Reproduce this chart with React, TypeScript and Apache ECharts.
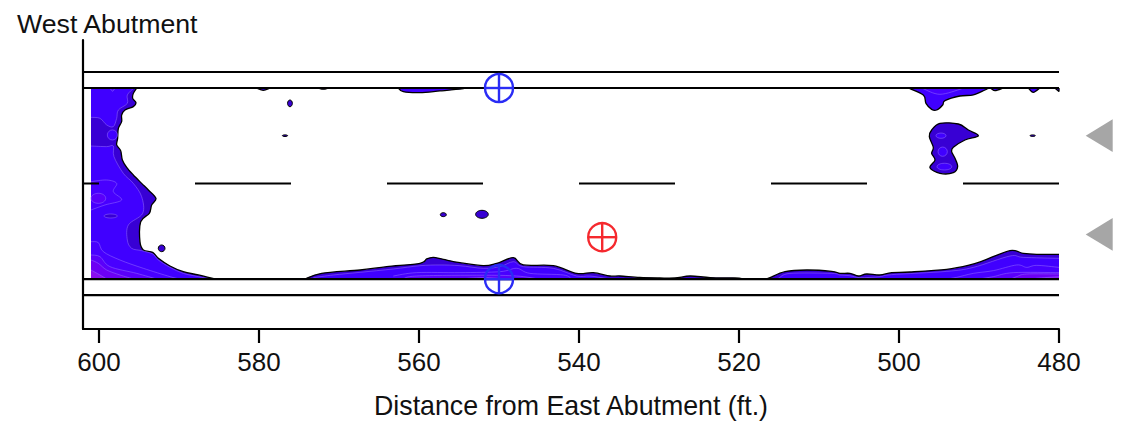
import React, { useEffect, useRef } from "react";
import * as echarts from "echarts";

type P = [number, number];
type Contour = { level: number; edge: P[]; close: P[] | null };

const xTicks = [600, 580, 560, 540, 520, 500, 480];
const deckLineYs = [4.12, 6.12, 30, 32];
const centerY = 18.06;
const centerDashes: P[] = [[602, 600], [588, 576], [564, 552], [540, 528], [516, 504], [492, 480]];

const levelColors = ["#3800d4", "#4000ff", "#4800ff", "#5a00fa", "#6c00f4", "#8a10f0"];

// West side mass, outer boundary then interior levels
const leftOuter: P[] = [[595.29, 30], [595.71, 29.33], [595.79, 28.71], [595.38, 28.17], [595.71, 27.67], [596.75, 27.25], [597.17, 26.63], [597.17, 25.79], [597.58, 24.96], [597.67, 23.71], [597.79, 22.88], [597.29, 22.17], [597.08, 21], [596.54, 20.08], [595.71, 19.13], [594.67, 18.08], [593.83, 17.25], [592.88, 16.21], [593.42, 15.38], [593.71, 14.33], [594.79, 13.29], [594.88, 10.79], [594.46, 9.75], [593.29, 9.46], [592.58, 8.71], [591.13, 7.75], [589.46, 7.04], [587.58, 6.63], [585.5, 6.12]];
const leftTop: P[] = [[595.63, 30], [596.46, 29.13], [596.46, 28.08], [597.58, 27.25], [597.79, 26.21], [598.21, 25.17], [599.04, 25.38], [599.88, 26.21], [601, 26.33]];
const leftLower: P[] = [[601, 22.75], [599.04, 22.67], [598.21, 22.75], [598.13, 21.42], [596.96, 19.33], [595.71, 18.08], [594.67, 16.42], [594.54, 14.33], [596.33, 12.88], [596.46, 11], [595.92, 9.96], [594.67, 9.67], [593.29, 9.25], [592.58, 8.5], [591.13, 7.58], [589.46, 6.83], [587.58, 6.42], [586.13, 6.12]];
const leftPatch: P[] = [[601, 18.29], [599.04, 18.5], [597.79, 18.08], [598.21, 17.04], [597.17, 16], [599.25, 15.38], [601, 14.75]];
const leftBase2: P[] = [[601, 10.79], [600.08, 10.67], [599.46, 9.54], [597.38, 8.5], [594.46, 7.46], [591.13, 6.42], [589.88, 6.12]];
const leftBase3: P[] = [[601, 9.13], [599.88, 8.92], [598.63, 7.67], [595.29, 6.83], [592.79, 6.12]];
const leftBase4: P[] = [[601, 8.5], [600.08, 8.08], [599.04, 7.25], [597.38, 6.63], [595.71, 6.12]];
const leftBase5: P[] = [[601, 7.25], [599.88, 6.63], [599.04, 6.12]];
const leftTopBump: P[] = [[598.63, 30], [598.3, 29.6], [598, 30]];

// Bottom strip along the east face, middle portion
const midOuter: P[] = [[574.25, 6.12], [572.17, 6.83], [567.37, 7.25], [564.04, 7.67], [559.88, 8.08], [559.04, 8.63], [558.21, 8.83], [556.96, 8.58], [554.88, 8.17], [551.96, 7.79], [550.29, 8.08], [548.21, 8.79], [546.96, 7.88], [543.21, 7.79], [540.29, 6.83], [538.21, 6.92], [536.13, 6.5], [534.88, 6.5], [532.4, 6.31], [529.9, 6.25], [528, 6.25], [526.1, 6.5], [523.6, 6.3], [520.5, 6.25], [519.3, 6.12]];
const mid1: P[] = [[573.21, 6.29], [570.71, 6.63], [567.37, 6.96], [563.21, 7.38], [559.88, 7.79], [557.38, 7.88], [554.88, 7.79], [551.96, 7.46], [549.88, 7.67], [548.21, 8.29], [546.96, 7.67], [543.21, 7.46], [540.29, 6.5], [538.63, 6.5], [536.54, 6.2], [535.5, 6.12]];
const mid2: P[] = [[563.21, 6.5], [560.29, 6.92], [554.88, 6.92], [549.88, 7.04], [547.79, 7.46], [546.13, 6.83], [541.96, 6.63], [540.92, 6.12]];
const mid3: P[] = [[562, 6.12], [560.29, 6.5], [552.38, 6.6], [547.79, 6.5], [545, 6.12]];
const mid4: P[] = [[555, 6.12], [551.96, 6.3], [549, 6.12]];

// Bottom strip, east end
const eastOuter: P[] = [[516.6, 6.12], [516.13, 6.29], [514.25, 7.04], [511.54, 7.25], [508.42, 7.08], [507.38, 6.83], [506.13, 6.83], [505.08, 6.5], [504.04, 6.75], [502.38, 6.63], [500.92, 6.92], [498.63, 7], [494.04, 7.33], [491.13, 7.88], [489.46, 8.42], [486.13, 9.67], [484.46, 9.33], [482.79, 9.21], [480, 9.21]];
const east1: P[] = [[515.6, 6.12], [515.08, 6.21], [513.63, 6.83], [508.42, 6.83], [507.38, 6.63], [506.13, 6.54], [504.88, 6.29], [502.38, 6.42], [500.92, 6.67], [494.04, 7.08], [490.71, 7.58], [486.13, 9], [484.46, 8.83], [480, 8.71]];
const east2: P[] = [[494, 6.12], [492.79, 6.33], [490.71, 6.83], [488.21, 7.17], [485.29, 7.88], [484.04, 7.58], [482.79, 7.83], [480, 7.58]];
const east3: P[] = [[490, 6.12], [488.21, 6.42], [485.71, 6.92], [480, 6.92]];
const east4: P[] = [[486, 6.12], [485.29, 6.42], [484.04, 6.75], [480, 6.75]];
const east5: P[] = [[483, 6.12], [482.79, 6.21], [480, 6.42]];

// Top strip pieces and the isolated blob
const topEast: P[] = [[498.83, 30], [496.96, 29.13], [496.63, 28.08], [495.92, 27.33], [495.29, 27.25], [494.54, 27.88], [494.25, 28.42], [492.38, 29], [490.71, 29.13], [489.25, 29.75], [488.63, 30], [488, 29.67], [486.96, 30]];
const topEastInner: P[] = [[496.96, 29.9], [494.88, 29.21], [492.17, 29.9]];
const topBump2: P[] = [[483.83, 30], [483.21, 29.46], [482.38, 30]];
const topBump3: P[] = [[480.5, 30], [480.08, 29.63], [480, 29.63], [480, 30]];
const topBumpA: P[] = [[580.29, 30], [579.46, 29.71], [578.63, 30]];
const topBumpB: P[] = [[572.58, 30], [571.96, 29.85], [571.33, 30]];
const topMid: P[] = [[562.58, 30], [561.96, 29.54], [559.88, 29.42], [557.38, 29.63], [554.67, 29.88], [554.4, 30]];
const eastBlob: P[] = [[494.88, 25.58], [492.58, 25.5], [491.33, 24.75], [490.08, 24.04], [491.75, 23.5], [493.21, 22.58], [493.42, 22.04], [493, 21.21], [492.67, 20.17], [493.21, 19.42], [494.88, 19.33], [496.13, 20.04], [495.5, 21], [495.92, 21.83], [495.71, 22.58], [496.21, 23.92], [495.92, 24.75]];

const contours: Contour[] = [
  { level: 0, edge: leftOuter, close: [[601, 6.12], [601, 30]] },
  { level: 1, edge: leftTop, close: [[601, 30]] },
  { level: 1, edge: leftLower, close: [[601, 6.12]] },
  { level: 2, edge: leftPatch, close: [] },
  { level: 2, edge: leftTopBump, close: [] },
  { level: 2, edge: leftBase2, close: [[601, 6.12]] },
  { level: 3, edge: leftBase3, close: [[601, 6.12]] },
  { level: 4, edge: leftBase4, close: [[601, 6.12]] },
  { level: 5, edge: leftBase5, close: [[601, 6.12]] },
  { level: 0, edge: midOuter, close: [] },
  { level: 1, edge: mid1, close: [] },
  { level: 2, edge: mid2, close: [[563.21, 6.12]] },
  { level: 3, edge: mid3, close: [] },
  { level: 4, edge: mid4, close: [] },
  { level: 0, edge: eastOuter, close: [[480, 6.12]] },
  { level: 1, edge: east1, close: [[480, 6.12]] },
  { level: 2, edge: east2, close: [[480, 6.12]] },
  { level: 3, edge: east3, close: [[480, 6.12]] },
  { level: 4, edge: east4, close: [[480, 6.12]] },
  { level: 5, edge: east5, close: [[480, 6.12]] },
  { level: 1, edge: topEast, close: [] },
  { level: 2, edge: topEastInner, close: [] },
  { level: 1, edge: topBump2, close: [] },
  { level: 1, edge: topBump3, close: [] },
  { level: 1, edge: topBumpA, close: [] },
  { level: 1, edge: topBumpB, close: [] },
  { level: 1, edge: topMid, close: [] },
  { level: 0, edge: eastBlob, close: null },
];
const outlined = [0, 9, 14, 20, 22, 23, 24, 25, 26, 27];

// [x, y, rx, ry, level]
const ellipses: number[][] = [
  [598.33, 24.13, 0.63, 0.63, 1],
  [600.08, 16.21, 0.92, 0.63, 3],
  [598.54, 14, 0.83, 0.25, 0],
  [494.75, 24.04, 0.63, 0.33, 1],
  [494.54, 22.04, 0.58, 0.58, 1],
  [494.33, 20.17, 0.92, 0.42, 1],
  [483.29, 24.04, 0.33, 0.1, -1],
  [576.13, 28.08, 0.3, 0.42, -1],
  [576.75, 24.04, 0.33, 0.1, -1],
  [556.96, 14.17, 0.375, 0.25, -1],
  [552.13, 14.21, 0.79, 0.5, -1],
  [592.17, 9.96, 0.42, 0.42, -1],
];

// [x, y, colour index]
const markers: number[][] = [
  [550, 30, 0],
  [550, 6.1, 0],
  [537.1, 11.35, 1],
];
const markerColors = ["#2a2cf5", "#f5292e"];
const markerRadius = 1.75;

const triangles: P[][] = [
  [[476.66, 24.04], [473.29, 26.08], [473.29, 22.0]],
  [[476.66, 11.7], [473.29, 13.74], [473.29, 9.66]],
];

function splinePath(pts: number[][], closePts: number[][] | null): string {
  const closed = closePts === null;
  const n = pts.length;
  const at = (i: number) => (closed ? pts[(i + n) % n] : pts[Math.max(0, Math.min(n - 1, i))]);
  let d = `M${pts[0][0]} ${pts[0][1]}`;
  const segs = closed ? n : n - 1;
  for (let i = 0; i < segs; i++) {
    const p0 = at(i - 1), p1 = at(i), p2 = at(i + 1), p3 = at(i + 2);
    const c1x = p1[0] + (p2[0] - p0[0]) / 6, c1y = p1[1] + (p2[1] - p0[1]) / 6;
    const c2x = p2[0] - (p3[0] - p1[0]) / 6, c2y = p2[1] - (p3[1] - p1[1]) / 6;
    d += `C${c1x} ${c1y} ${c2x} ${c2y} ${p2[0]} ${p2[1]}`;
  }
  if (closePts) for (const c of closePts) d += `L${c[0]} ${c[1]}`;
  if (closed) d += "Z";
  return d;
}

export default function App() {
  const ref = useRef<HTMLDivElement>(null);
  useEffect(() => {
    const chart = echarts.init(ref.current!, null, { renderer: "svg" });
    const contourLine = "rgba(150,110,255,0.75)";
    const lineSeries = (name: string, data: any[], z = 3) => ({
      type: "line", name, data, z, symbol: "none", silent: true, connectNulls: false,
      lineStyle: { color: "#000", width: 2.2 },
    });
    chart.setOption({
      animation: false,
      title: {
        text: "West Abutment", left: 17, top: 10, padding: 0,
        textStyle: { fontFamily: "Liberation Sans", fontSize: 26.7, fontWeight: "normal", color: "#111" },
      },
      grid: { left: 83, top: 40, width: 976, height: 289 },
      xAxis: {
        type: "value", inverse: true, min: 480, max: 602,
        name: "Distance from East Abutment (ft.)", nameLocation: "middle", nameGap: 63,
        nameTextStyle: { fontFamily: "Liberation Sans", fontSize: 26.75, color: "#111" },
        axisLine: { onZero: false, lineStyle: { color: "#000", width: 2.2 } },
        axisTick: { length: 14, customValues: xTicks, lineStyle: { color: "#000", width: 2.2 } },
        axisLabel: { customValues: xTicks, margin: 20, fontFamily: "Liberation Sans", fontSize: 26, color: "#111" },
        splitLine: { show: false },
      },
      yAxis: {
        type: "value", min: -0.125, max: 36,
        axisLine: { show: true, onZero: false, lineStyle: { color: "#000", width: 2.2 } },
        axisTick: { show: false }, axisLabel: { show: false }, splitLine: { show: false },
      },
      series: [
        {
          type: "custom", name: "contours", z: 2, silent: true, coordinateSystem: "cartesian2d",
          data: contours.map((_, i) => [i]), encode: { x: -1, y: -1 },
          renderItem: (params: any, api: any) => {
            const c = contours[params.dataIndex];
            const hasEdge = outlined.includes(params.dataIndex);
            const edge = c.edge.map((p) => api.coord(p));
            const close = c.close ? c.close.map((p) => api.coord(p)) : null;
            return {
              type: "group",
              children: [
                { type: "path", shape: { pathData: splinePath(edge, close ?? null) + (close ? "Z" : "") },
                  style: { fill: levelColors[c.level], stroke: "none" } },
                { type: "path", shape: { pathData: splinePath(edge, close ? [] : null) },
                  style: { fill: "none",
                    stroke: hasEdge ? "#000" : contourLine,
                    lineWidth: hasEdge ? 1.3 : 0.7 } },
              ],
            };
          },
        },
        {
          type: "custom", name: "blobs", z: 2, silent: true, coordinateSystem: "cartesian2d",
          data: ellipses, encode: { x: 0, y: 1 },
          renderItem: (params: any, api: any) => {
            const e = ellipses[params.dataIndex];
            const c = api.coord([e[0], e[1]]);
            const s = api.size([e[2], e[3]]);
            const isolated = e[4] < 0;
            return {
              type: "ellipse",
              shape: { cx: c[0], cy: c[1], rx: s[0], ry: s[1] },
              style: {
                fill: isolated ? levelColors[0] : levelColors[e[4]],
                stroke: isolated ? "#000" : contourLine,
                lineWidth: isolated ? 1 : 0.7,
              },
            };
          },
        },
        ...deckLineYs.map((y, i) =>
          lineSeries(`deck${i}`, [[602, y], [480, y]])),
        lineSeries("centerline", centerDashes.flatMap((d) => [[d[0], centerY], [d[1], centerY], [null, null]])),
        {
          type: "custom", name: "targets", z: 5, silent: true, coordinateSystem: "cartesian2d",
          data: markers, encode: { x: 0, y: 1 },
          renderItem: (params: any, api: any) => {
            const m = markers[params.dataIndex];
            const c = api.coord([m[0], m[1]]);
            const r = api.size([markerRadius, 0])[0];
            const stroke = markerColors[m[2]];
            const style = { stroke, fill: "none", lineWidth: 2.4 };
            return {
              type: "group",
              children: [
                { type: "circle", shape: { cx: c[0], cy: c[1], r }, style },
                { type: "line", shape: { x1: c[0] - r, y1: c[1], x2: c[0] + r, y2: c[1] }, style },
                { type: "line", shape: { x1: c[0], y1: c[1] - r, x2: c[0], y2: c[1] + r }, style },
              ],
            };
          },
        },
        {
          type: "custom", name: "triangles", z: 5, silent: true, coordinateSystem: "cartesian2d", clip: false,
          data: triangles.map((_, i) => [i]), encode: { x: -1, y: -1 },
          renderItem: (params: any, api: any) => ({
            type: "polygon",
            shape: { points: triangles[params.dataIndex].map((p) => api.coord(p)) },
            style: { fill: "#a6a6a6", stroke: "none" },
          }),
        },
      ],
    });
    return () => chart.dispose();
  }, []);
  return <div ref={ref} style={{ position: "absolute", left: 0, top: 0, width: 1121, height: 426 }} />;
}
